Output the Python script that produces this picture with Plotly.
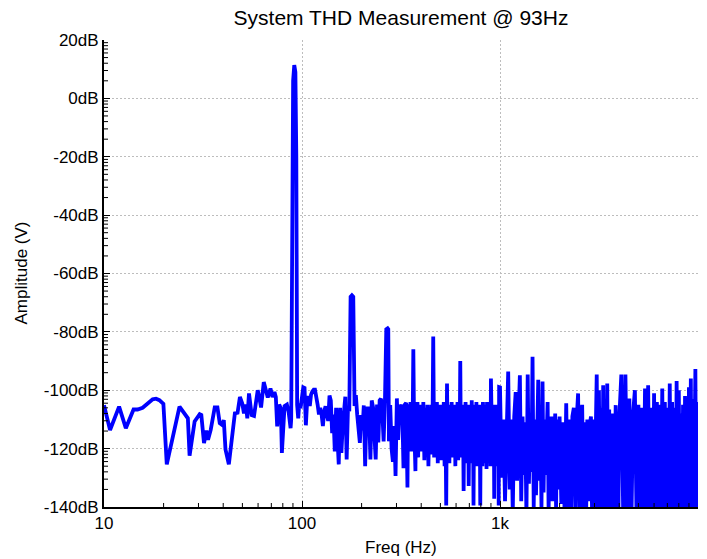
import numpy as np
import plotly.graph_objects as go

# ---------------- data ----------------
TITLE = "System THD Measurement @ 93Hz"
X_TITLE = "Freq (Hz)"
Y_TITLE = "Amplitude (V)"

X_TICKVALS = [10, 100, 1000, 10000]
X_TICKTEXT = ["10", "100", "1k", "10k"]
Y_TICKVALS = [-140, -120, -100, -80, -60, -40, -20, 0, 20]
Y_TICKTEXT = ["-140dB", "-120dB", "-100dB", "-80dB", "-60dB", "-40dB", "-20dB", "0dB", "20dB"]

# low-frequency part (10 .. 88 Hz)
LF_FREQ = [10.0, 10.73, 11.92, 12.89, 14.10, 14.77, 15.67, 16.61, 17.61, 18.31, 19.04, 19.95,
           20.75, 24.06, 26.52, 27.05, 28.69, 30.42, 31.01, 32.0, 32.88, 33.53, 34.59, 36.25,
           37.4, 38.43, 39.5, 40.28, 41.08, 42.71, 44.6, 45.81, 47.27, 48.58, 49.92, 50.91,
           52.12, 52.94, 53.99, 55.70, 57.24, 59.75, 60.69, 62.13, 64.11, 65.6, 67.17, 69.3,
           70.94, 72.6, 73.77, 74.93, 76.7, 78.21, 79.14, 81.65, 83.9, 85.54, 87.57]
LF_DB = [-105.1, -113.6, -105.6, -113.0, -106.6, -106.6, -106.0, -104.5, -103.1, -102.9, -103.4, -104.7,
         -125.4, -105.6, -109.6, -122.4, -110.7, -108.2, -108.5, -118.1, -113.8, -117.0, -113.6, -105.9,
         -105.9, -111.3, -111.9, -110.2, -120.3, -125.4, -113.6, -107.9, -107.7, -102.3, -104.5, -107.9,
         -104.9, -109.6, -101.1, -108.5, -108.8, -100.0, -102.0, -105.9, -97.2, -100.6, -102.5, -99.4,
         -102.3, -100.6, -102.3, -112.4, -104.9, -106.2, -121.5, -105.4, -104.9, -107.3, -113.0]

# fundamental
PEAK_FREQ = [88.2, 89.0, 90.2, 91.4, 92.6, 93.6, 94.5]
PEAK_DB = [-110.0, -25.0, 6.0, 11.4, 9.0, -20.0, -105.0]

# noise floor, 95.7 .. 199 Hz (incl. 2nd harmonic)
S1_FREQ = [95.7, 96.8, 98.3, 100, 101.5, 103, 104.6, 106.2, 107.8, 109.5, 111.1, 112.8, 114.6, 116.3,
           118.1, 119.9, 121.8, 123.7, 125.6, 127.5, 129.5, 131.5, 133.5, 135.6, 137.7, 139.8, 142,
           144.2, 146.4, 148.7, 151, 153.3, 155.7, 158.1, 160.5, 163, 165.5, 168.1, 170.7, 173.3, 176,
           178.7, 181.5, 184.3, 187.1, 190, 193, 196, 199]
S1_DB = [-109.6, -104.5, -106.2, -101, -99, -99.2, -112, -103.6, -102, -105.4, -101.5, -100.4, -99.8,
         -99.8, -103.7, -104.9, -108.3, -106, -108.3, -112.3, -107.2, -105.5, -108.3, -110.5, -101.8,
         -103.5, -114.7, -108.3, -121, -106, -116.2, -125.4, -106, -121.5, -112.4, -107.3, -102.2,
         -123.7, -106, -107.2, -68, -67.5, -68, -105.4, -101.7, -108.3, -112.4, -118, -108.5]

# 202 .. 398 Hz (incl. 3rd harmonic)
S2_FREQ = [202, 205.2, 208.4, 211.6, 214.9, 218.2, 221.6, 225, 228.5, 232, 235.6, 239.3, 243, 246.7,
           250.5, 254.4, 258.4, 262.4, 266.5, 270.6, 272.7, 274.8, 279, 283.4, 287.8, 292.2, 296.8,
           301.4, 306, 310.8, 315.6, 320.5, 325.5, 330.5, 335.7, 340.9, 343.5, 347, 350, 353, 356,
           359, 362, 365, 368, 371, 374, 377, 380, 383, 386, 389, 392, 395, 398]
S2_DB = [-113.7, -105.2, -126, -108.5, -105.7, -108.3, -123.7, -103.5, -105.8, -115.3, -123.7, -104.9,
         -117.9, -103.5, -102.9, -107.3, -117.5, -103.5, -79.1, -78.8, -79.1, -117.5, -105.1, -120,
         -124.5, -112.3, -129.4, -102.8, -117, -104.9, -109.5, -104.9, -126.7, -104.9, -104.3, -133.3,
         -104.9, -106, -118, -104, -121, -105, -112, -86, -110, -122, -127.7, -105, -120, -104, -123,
         -106, -121, -105, -119]

# 400 .. 995 Hz
S3_FREQ = [400, 405, 410, 415, 420, 425, 430, 435, 440, 445, 450, 455, 460, 465, 470, 475, 480, 485,
           490, 495, 500, 505, 510, 515, 520, 525, 530, 535, 540, 545, 550, 555, 560, 565, 570, 575,
           580, 585, 590, 595, 600, 605, 610, 615, 620, 625, 630, 635, 640, 645, 650, 655, 660, 665,
           670, 675, 680, 685, 690, 695, 700, 705, 710, 715, 720, 725, 730, 735, 740, 745, 750, 755,
           760, 765, 770, 775, 780, 785, 790, 795, 800, 805, 810, 815, 820, 825, 830, 835, 840, 845,
           850, 855, 860, 865, 870, 875, 880, 885, 890, 895, 900, 905, 910, 915, 920, 925, 930, 935,
           940, 945, 950, 955, 960, 965, 970, 975, 980, 985, 990, 995]
S3_DB = [-105, -121, -104, -124, -106, -119, -105, -126, -107, -120, -105, -122, -81.6, -123, -106,
         -120, -104, -125, -107, -121, -105, -124, -106, -120, -104, -126, -107, -139.5, -97.7, -122,
         -105, -125, -106, -121, -104, -123, -107, -120, -105, -126, -106, -121, -104, -124, -107,
         -120, -90, -123, -106, -121, -105, -134.5, -107, -122, -104, -125, -106, -121, -105, -132.8,
         -107, -122, -106, -125, -103.4, -121, -106, -139.5, -105, -124, -107, -121, -104, -126, -106,
         -122, -105, -124, -107, -139.5, -105, -123, -106, -126, -104, -121, -107, -125, -105, -122,
         -106, -127, -104, -121, -107, -125, -106, -122, -105, -126, -96, -123, -106, -125, -107,
         -121, -105, -137.2, -107, -124, -106, -122, -108, -126, -105, -123, -107, -139.5, -98.9, -125]

# 1000 .. 1980 Hz
S4_FREQ = [1000, 1020, 1040, 1060, 1080, 1100, 1120, 1140, 1160, 1180, 1200, 1220, 1240, 1260, 1280,
           1300, 1320, 1340, 1360, 1380, 1400, 1420, 1440, 1460, 1480, 1500, 1520, 1540, 1560, 1580,
           1600, 1620, 1640, 1660, 1680, 1700, 1720, 1740, 1760, 1780, 1800, 1820, 1840, 1860, 1880,
           1900, 1920, 1940, 1960, 1980]
S4_DB = [-99, -130, -110, -138, -108, -93.6, -134, -110, -142, -109, -100.6, -131, -110, -94.9, -138,
         -109, -129, -111, -143, -94.6, -132, -110, -128, -88.5, -140, -110, -136, -109, -96.4, -131,
         -111, -140, -97, -135, -110, -129, -112, -104, -142, -110, -133, -109, -138, -111, -130,
         -108, -141, -110, -134, -112]

# 2000 .. 3960 Hz
S5_FREQ = [2000, 2040, 2080, 2120, 2160, 2200, 2240, 2280, 2320, 2360, 2400, 2440, 2480, 2520, 2560,
           2600, 2640, 2680, 2720, 2760, 2800, 2840, 2880, 2920, 2960, 3000, 3040, 3080, 3120, 3160,
           3200, 3240, 3280, 3320, 3360, 3400, 3440, 3480, 3520, 3560, 3600, 3640, 3680, 3720, 3760,
           3800, 3840, 3880, 3920, 3960]
S5_DB = [-109, -139, -111, -143, -104.5, -140, -110, -145, -109, -106, -142, -110, -101.1, -144, -110,
         -105, -141, -111, -146, -110, -138, -112, -109, -145, -110, -140, -109, -94.6, -146, -100,
         -143, -106, -148, -98.3, -145, -110, -147, -97.7, -145, -106.6, -148, -110, -146, -108, -147,
         -106, -105.1, -149, -110, -145]

# 4000 .. 10000 Hz
S6_FREQ = [4000, 4100, 4200, 4300, 4400, 4500, 4600, 4700, 4800, 4900, 5000, 5100, 5200, 5300, 5400,
           5500, 5600, 5700, 5800, 5900, 6000, 6100, 6200, 6300, 6400, 6500, 6600, 6700, 6800, 6900,
           7000, 7100, 7200, 7300, 7400, 7500, 7600, 7700, 7800, 7900, 8000, 8100, 8200, 8300, 8400,
           8500, 8600, 8700, 8800, 8900, 9000, 9100, 9200, 9300, 9400, 9500, 9600, 9700, 9800, 9900,
           10000]
S6_DB = [-110, -94.6, -148, -94.6, -146, -102.8, -149, -108, -100, -147, -105, -149, -106, -146, -99.4,
         -148, -98.3, -147, -106, -149, -101, -146, -104, -148, -105, -147, -99.4, -149, -104, -146,
         -106, -148, -97.7, -147, -104, -149, -106, -146, -96.8, -148, -100, -147, -108, -149, -105,
         -146, -102, -148, -104, -147, -99, -149, -96, -146, -103, -148, -100, -92.7, -147, -104,
         -113]

# ---------------- assemble ----------------
segments = [(LF_FREQ, LF_DB), (PEAK_FREQ, PEAK_DB), (S1_FREQ, S1_DB), (S2_FREQ, S2_DB),
            (S3_FREQ, S3_DB), (S4_FREQ, S4_DB), (S5_FREQ, S5_DB), (S6_FREQ, S6_DB)]
freq, amp = [], []
for f, d in segments:
    assert len(f) == len(d), (len(f), len(d))
    freq += list(f)
    amp += list(d)

FONT = "Liberation Sans, Arial, Helvetica, sans-serif"

X_RANGE_LOG = [1, 4]
Y_RANGE = [-140, 20]

# plot-area geometry (pixels) used for axis decoration
PLOT_W, PLOT_H = 594, 467
MINOR_LEN = 4

# minor tick positions (axis decoration only)
x_minor = [m * 10 ** e for e in (1, 2, 3) for m in range(2, 10)]
y_minor = [top - 20 + 20 * np.log10(k) for top in range(-120, 21, 20) for k in range(2, 10)]

shapes = []
for xv in x_minor:
    xp = float((np.log10(xv) - X_RANGE_LOG[0]) / (X_RANGE_LOG[1] - X_RANGE_LOG[0]))
    shapes.append(dict(type="line", xref="paper", yref="paper", x0=xp, x1=xp,
                       y0=0, y1=MINOR_LEN / PLOT_H, line=dict(color="black", width=1),
                       layer="above"))
for yv in y_minor:
    yp = float((yv - Y_RANGE[0]) / (Y_RANGE[1] - Y_RANGE[0]))
    shapes.append(dict(type="line", xref="paper", yref="paper", x0=0, x1=MINOR_LEN / PLOT_W,
                       y0=yp, y1=yp, line=dict(color="black", width=1), layer="above"))

fig = go.Figure()
fig.add_trace(go.Scatter(x=freq, y=amp, mode="lines",
                         line=dict(color="#0000ff", width=3.8), showlegend=False,
                         hoverinfo="skip"))

axis_common = dict(
    showgrid=True, gridcolor="#bdbdbd", griddash="2px,2px", gridwidth=1,
    showline=True, linecolor="black", linewidth=2, mirror=False,
    ticks="inside", ticklen=6, tickwidth=1, tickcolor="black",
    tickfont=dict(family=FONT, size=17, color="black"),
    zeroline=False,
)

fig.update_layout(
    width=707, height=559,
    margin=dict(l=104, r=9, t=40, b=52),
    paper_bgcolor="white", plot_bgcolor="white",
    font=dict(family=FONT, color="black"),
    title=dict(text=TITLE, x=(104 + 698) / 2 / 707, xanchor="center",
               y=1 - 18 / 559, yanchor="middle", yref="container",
               font=dict(family=FONT, size=21, color="black")),
    xaxis=dict(type="log", range=X_RANGE_LOG, tickmode="array", tickvals=X_TICKVALS,
               ticktext=X_TICKTEXT, **axis_common),
    yaxis=dict(range=Y_RANGE, tickmode="array", tickvals=Y_TICKVALS, ticktext=Y_TICKTEXT,
               **axis_common),
    shapes=shapes,
    annotations=[
        dict(text=X_TITLE, xref="paper", yref="paper", x=0.5, y=-(547.5 - 507) / 467,
             xanchor="center", yanchor="middle", showarrow=False,
             font=dict(family=FONT, size=17, color="black")),
        dict(text=Y_TITLE, xref="paper", yref="paper", x=(21 - 104) / 594, y=0.5,
             xanchor="center", yanchor="middle", textangle=-90, showarrow=False,
             font=dict(family=FONT, size=17, color="black")),
    ],
)

fig.write_html("out.html")
